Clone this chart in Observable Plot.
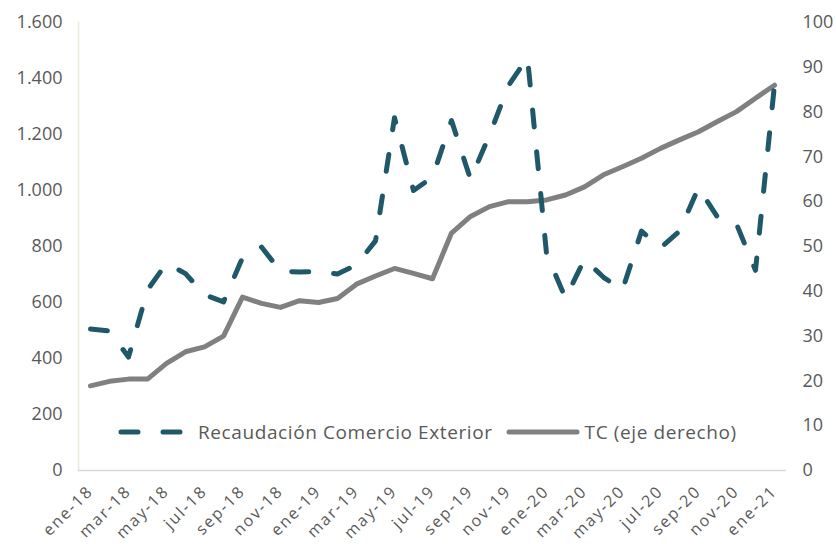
<!DOCTYPE html>
<html><head><meta charset="utf-8">
<script src="https://cdn.jsdelivr.net/npm/d3@7"></script>
<script src="https://cdn.jsdelivr.net/npm/@observablehq/plot@0.6"></script>
<style>
body{margin:0;background:#fff;font-family:"Open Sans",sans-serif;}
#wrap{position:relative;width:836px;height:544px;}
#legend{position:absolute;left:118px;top:418px;height:28px;display:flex;align-items:center;font-size:19px;letter-spacing:0.6px;color:#595959;white-space:nowrap;}
#legend svg{display:block;}
.xt text{letter-spacing:2px;}
</style></head><body><div id="wrap"></div>
<script>
const months = ["ene-18","feb-18","mar-18","abr-18","may-18","jun-18","jul-18","ago-18","sep-18","oct-18","nov-18","dic-18",
"ene-19","feb-19","mar-19","abr-19","may-19","jun-19","jul-19","ago-19","sep-19","oct-19","nov-19","dic-19",
"ene-20","feb-20","mar-20","abr-20","may-20","jun-20","jul-20","ago-20","sep-20","oct-20","nov-20","dic-20","ene-21"];
const recaudacion = [505,498,405,645,740,703,628,602,760,798,712,709,710,702,734,820,1260,1000,1048,1250,1040,1198,1375,1475,
775,615,755,690,645,855,795,855,1010,905,880,715,1378];
const tc = [18.9,19.9,20.4,20.4,23.9,26.5,27.6,30.0,38.7,37.3,36.4,37.9,37.5,38.4,41.6,43.4,45.1,44.0,42.8,53.0,56.7,58.9,60.0,60.0,
60.4,61.5,63.3,66.0,67.8,69.7,71.9,73.8,75.6,77.9,80.1,83.1,86.0];
const leftTicks = [0,200,400,600,800,1000,1200,1400,1600];
const rightTicks = [0,10,20,30,40,50,60,70,80,90,100];
const seriesNames = ["Recaudación Comercio Exterior","TC (eje derecho)"];

const data = months.map((m,i)=>({m, rec: recaudacion[i], tc: tc[i]}));
const ratio = 1600/100;
const loc = d3.formatLocale({decimal:",", thousands:".", grouping:[3], currency:["","$"]});
const fmt = loc.format(",");

const chart = Plot.plot({
  width:836, height:544, marginLeft:78, marginRight:51, marginTop:22, marginBottom:74,
  style:{fontFamily:"'Open Sans', sans-serif", fontSize:"18px", color:"#595959", background:"transparent"},
  x:{type:"point", domain:months, padding:0.5, axis:null},
  y:{domain:[0,1600], axis:null},
  marks:[
    Plot.frame({anchor:"left", stroke:"#ebe8dc", strokeOpacity:1, strokeWidth:1.5}),
    Plot.frame({anchor:"bottom", stroke:"#d9d9d9", strokeOpacity:1, strokeWidth:1.5}),
    Plot.axisY(leftTicks, {anchor:"left", label:null, tickSize:0, tickPadding:16, tickFormat:fmt, fontSize:18, fill:"#595959"}),
    Plot.axisY(rightTicks.map(d=>d*ratio), {anchor:"right", label:null, tickSize:0, tickPadding:17, tickFormat:d=>d/ratio, fontSize:18, fill:"#595959"}),
    Plot.axisX(months.filter((d,i)=>i%2===0), {anchor:"bottom", label:null, tickSize:0, tickPadding:18, tickRotate:-45, fontSize:16, fill:"#595959", className:"xt"}),
    Plot.line(data, {x:"m", y:d=>d.tc*ratio, stroke:"#808080", strokeWidth:5, strokeLinejoin:"round", strokeLinecap:"round"}),
    Plot.line(data, {x:"m", y:"rec", stroke:"#1f5869", strokeWidth:5, strokeDasharray:"17,25", strokeLinecap:"round", strokeLinejoin:"round"})
  ]
});
const wrap = document.getElementById("wrap");
wrap.appendChild(chart);
const lg = document.createElement("div");
lg.id = "legend";
lg.innerHTML = `<svg width="70" height="10"><line x1="3" y1="5" x2="66" y2="5" stroke="#1f5869" stroke-width="5" stroke-linecap="round" stroke-dasharray="17,25"/></svg>
<span style="margin-left:10px">${seriesNames[0]}</span>
<svg width="78" height="10" style="margin-left:12px"><line x1="4" y1="5" x2="72" y2="5" stroke="#808080" stroke-width="5" stroke-linecap="round"/></svg>
<span style="margin-left:2px">${seriesNames[1]}</span>`;
wrap.appendChild(lg);
</script>
</body></html>
